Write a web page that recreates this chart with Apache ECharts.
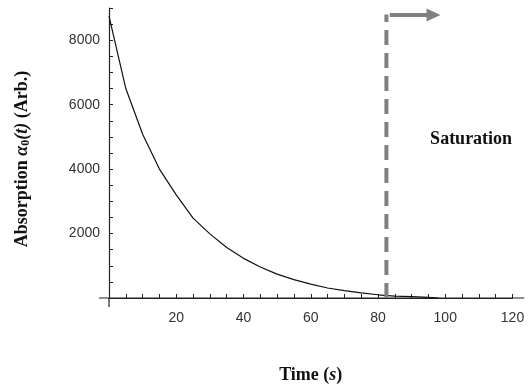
<!DOCTYPE html>
<html>
<head>
<meta charset="utf-8">
<script src="https://cdn.jsdelivr.net/npm/echarts@6/dist/echarts.min.js"></script>
<style>
  html, body { margin: 0; padding: 0; background: #fff; }
  #main { width: 532px; height: 386px; }
</style>
</head>
<body>
<div id="main"></div>
<script>
// values
var times = [0, 5, 10, 15, 20, 25, 30, 35, 40, 45, 50, 55, 60, 65, 70, 75, 80, 85, 90, 95, 98];
var absorption = [8750, 6500, 5080, 4000, 3200, 2480, 1990, 1570, 1230, 960, 740, 570, 430, 310, 230, 160, 100, 60, 40, 20, 0];
var saturationTime = 82.5;
var saturationTop = 8800;
var arrowFrom = [83.5, 8780];
var arrowTo = [96.5, 8780];
var saturationLabel = 'Saturation';
var xTickStep = 5, xLabelStep = 20;
var yTickStep = 500, yLabelStep = 2000;

var myChart = echarts.init(document.getElementById('main'));
var axisColor = '#222';
var serif = '"Liberation Serif", "DejaVu Serif", serif';

var curve = [];
for (var i = 0; i < times.length; i++) curve.push([times[i], absorption[i]]);

var option = {
  animation: false,
  grid: { left: 109, right: 19.5, top: 8, bottom: 88, containLabel: false, outerBoundsMode: 'none' },
  xAxis: {
    type: 'value', min: 0, max: 120, interval: xTickStep,
    name: 'Time ({i|s})', nameLocation: 'middle', nameGap: 68,
    nameTextStyle: {
      fontFamily: serif, fontWeight: 'bold', fontSize: 18, color: '#111',
      rich: { i: { fontFamily: serif, fontWeight: 'bold', fontStyle: 'italic', fontSize: 18, color: '#111' } }
    },
    axisLine: { lineStyle: { color: axisColor, width: 1.2 } },
    axisTick: { inside: true, length: 4, lineStyle: { color: axisColor } },
    splitLine: { show: false },
    axisLabel: {
      margin: 13, fontFamily: '"Liberation Sans", Arial, sans-serif', fontSize: 14, color: '#333',
      formatter: function(v) { return (v > 0 && v % xLabelStep === 0) ? String(v) : ''; }
    }
  },
  yAxis: {
    type: 'value', min: 0, max: 9000, interval: yTickStep,
    name: 'Absorption {i|α}{sub|0}{it|(t)} (Arb.)', nameLocation: 'middle', nameGap: 77, nameRotate: 90,
    nameTextStyle: {
      fontFamily: serif, fontWeight: 'bold', fontSize: 18, color: '#111',
      padding: [0, 12, 0, 0],
      rich: {
        i: { fontFamily: serif, fontWeight: 'bold', fontStyle: 'italic', fontSize: 18, color: '#111' },
        sub: { fontFamily: serif, fontWeight: 'bold', fontSize: 12, color: '#111', verticalAlign: 'bottom', padding: [7, 0, 0, 0] },
        it: { fontFamily: serif, fontWeight: 'bold', fontStyle: 'italic', fontSize: 18, color: '#111' }
      }
    },
    axisLine: { lineStyle: { color: axisColor, width: 1.2 } },
    axisTick: { inside: true, length: 4, lineStyle: { color: axisColor } },
    splitLine: { show: false },
    axisLabel: {
      margin: 9, fontFamily: '"Liberation Sans", Arial, sans-serif', fontSize: 14, color: '#333',
      formatter: function(v) { return (v > 0 && v % yLabelStep === 0) ? String(v) : ''; }
    }
  },
  series: [
    {
      type: 'line', data: curve, showSymbol: false, symbol: 'none',
      lineStyle: { color: '#111', width: 1.2 }, z: 3
    },
    {
      type: 'line', data: [[saturationTime, 0], [saturationTime, saturationTop]],
      showSymbol: false, symbol: 'none',
      lineStyle: { color: '#808080', width: 4, type: [15, 8] },
      markLine: {
        silent: true, symbol: ['none', 'triangle'], symbolSize: [13, 14],
        label: { show: false },
        lineStyle: { color: '#808080', width: 4, type: 'solid' },
        data: [[{ coord: arrowFrom }, { coord: arrowTo }]]
      },
      z: 4
    }
  ]
};
myChart.setOption(option);

// axis overhang past the origin/ends plus the annotation text
function px(p) { return myChart.convertToPixel({ gridIndex: 0 }, p); }
var o = px([0, 0]);
var xl = px([-3, 0]), xr = px([123.5, 0]), yb = px([0, -280]);
var txt = px([95.5, 4930]);
myChart.setOption({
  graphic: [
    { type: 'line', shape: { x1: xl[0], y1: o[1], x2: xr[0], y2: o[1] }, style: { stroke: axisColor, lineWidth: 1.2 } },
    { type: 'line', shape: { x1: o[0], y1: o[1], x2: o[0], y2: yb[1] }, style: { stroke: axisColor, lineWidth: 1.2 } },
    { type: 'text', x: txt[0], y: txt[1], style: { text: saturationLabel, font: 'bold 18px ' + serif, fill: '#111', verticalAlign: 'middle' } }
  ]
});
window.addEventListener('resize', function() { myChart.resize(); });
</script>
</body>
</html>
